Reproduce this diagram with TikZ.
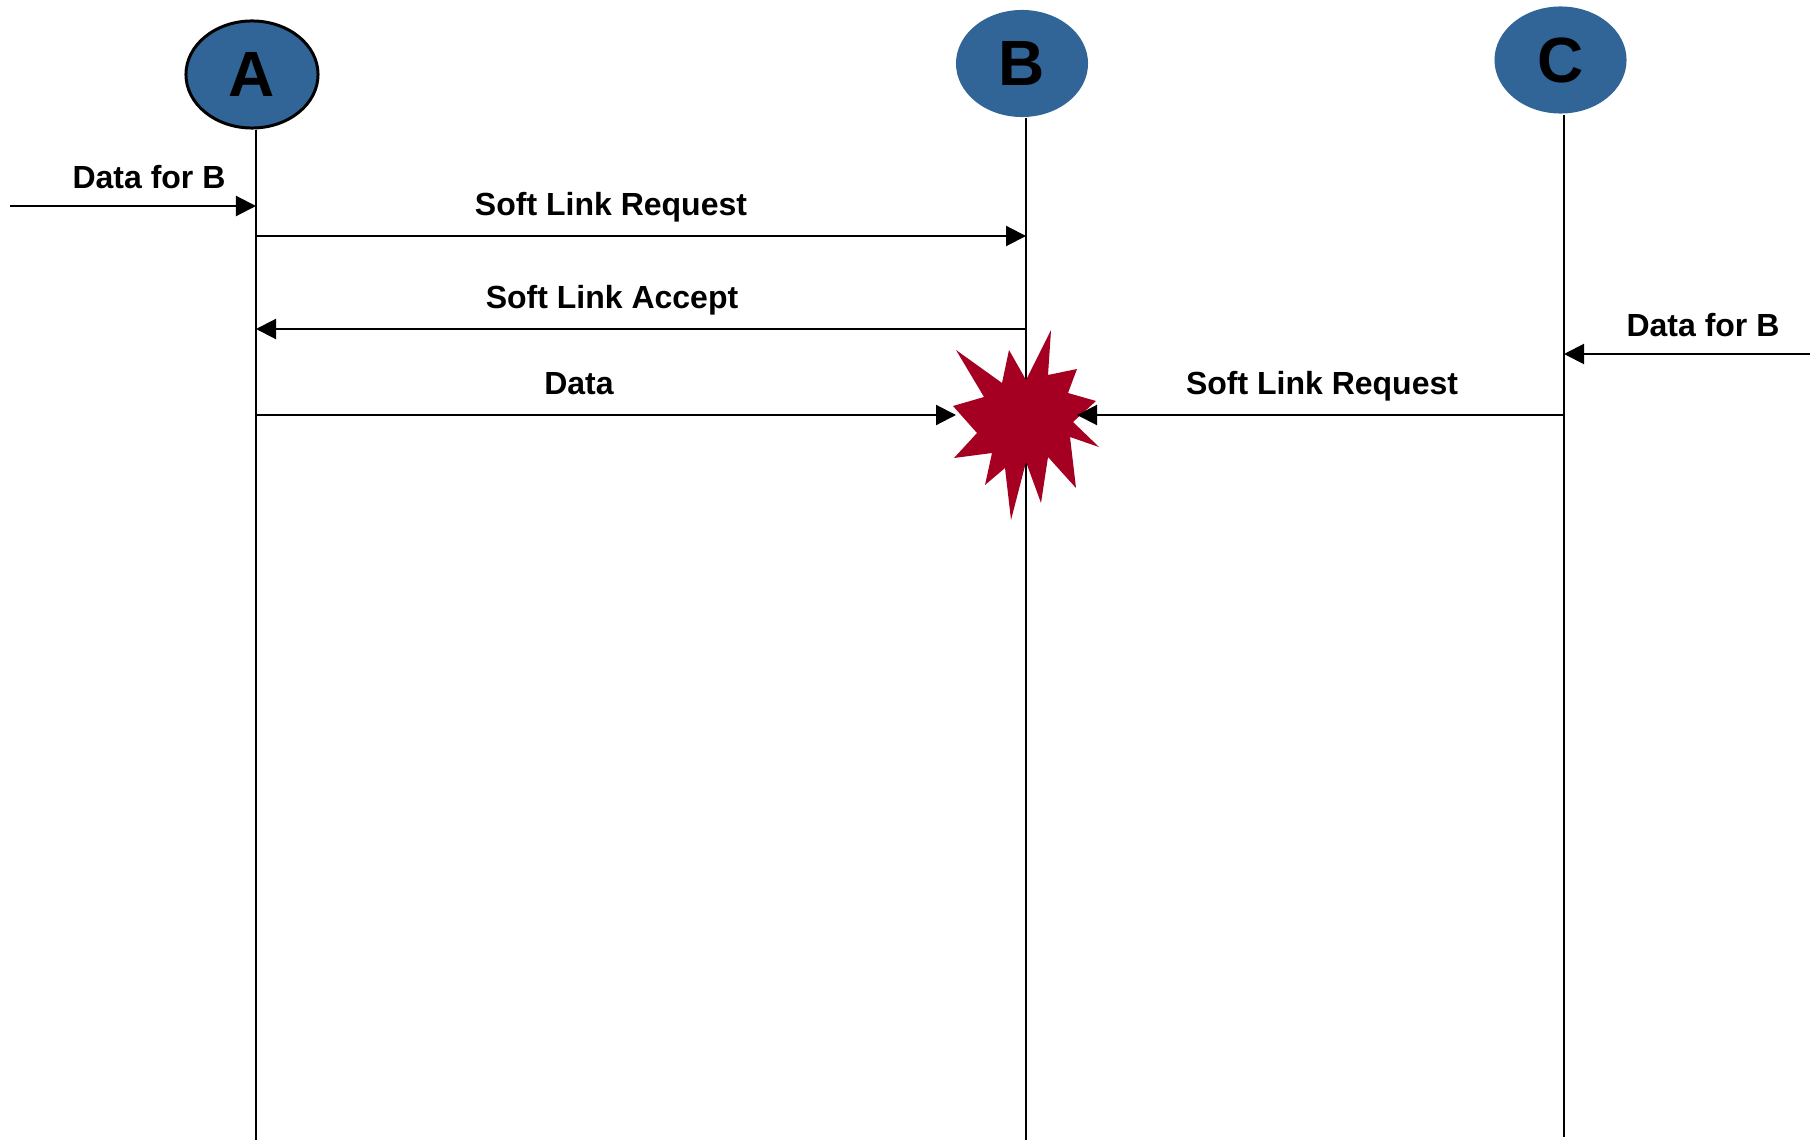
\documentclass[tikz,border=0pt]{standalone}
\usepackage{fontspec}
\setmainfont{Liberation Sans}
\usetikzlibrary{arrows.meta,shapes.geometric}
\definecolor{nodeblue}{RGB}{49,101,152}
\definecolor{burstred}{RGB}{165,0,33}
\begin{document}
\begin{tikzpicture}[x=0.01cm, y=-0.01cm, line width=0.6pt, line join=round, >={Triangle[length=0.2cm,width=0.2cm]},
	ent/.style={ellipse, fill=nodeblue, minimum width=1.32cm, minimum height=1.07cm, inner sep=0pt, font=\fontsize{18.2}{20}\selectfont\bfseries},
	lbl/.style={anchor=base, font=\fontsize{9.1}{11}\selectfont\bfseries}]
	\useasboundingbox (0,0) rectangle (1810,1143);
	\node[ent, draw=black, line width=0.85pt] (A) at (252,74.5) {A};
	\node[ent] (B) at (1022,63.5) {B};
	\node[ent] (C) at (1560.5,60) {C};
	% lifelines
	\coordinate (Ab) at (256,1140);
	\coordinate (Bb) at (1026,1140);
	\coordinate (Cb) at (1564,1137);
	\draw (Ab |- A.south) -- (Ab);
	\draw (Bb |- B.south) -- (Bb);
	\draw (Cb |- C.south) -- (Cb);
	% collision
	\fill[burstred] (1051,330) \foreach \p in {(1048,375),(1077,369),(1068,393),(1096,401),(1073,422),(1099,447),(1070,437),(1076,488),(1048,457),(1041,503),(1026,462),(1011,520),(1005,468),(985,485),(992,453),(954,458),(977,433),(953,406),(984,397),(956,350),(1002,383),(1009,350),(1026,380)} {-- \p} -- cycle;
	\coordinate (inA) at (10,206);
	\coordinate (inC) at (1810,354);
	\coordinate (hitL) at (956,415);
	\coordinate (hitR) at (1077,415);
	% messages
	\draw[->] (inA) -- (Ab |- inA);
	\draw[->] (Ab |- 0,236) -- (Bb |- 0,236);
	\draw[->] (Bb |- 0,329) -- (Ab |- 0,329);
	\draw[->] (Ab |- hitL) -- (hitL);
	\draw[->] (Cb |- hitR) -- (hitR);
	\draw[->] (inC) -- (Cb |- inC);
	\path 
	(149,189) node[lbl] (l1) {Data for B}
	(611,216) node[lbl] (l2) {Soft Link Request}
	(612,308) node[lbl] (l3) {Soft Link Accept}
	(579,394) node[lbl] (l4) {Data}
	(1322,394) node[lbl] (l5) {Soft Link Request}
	(1703,337) node[lbl] (l6) {Data for B};
\end{tikzpicture}
\end{document}
